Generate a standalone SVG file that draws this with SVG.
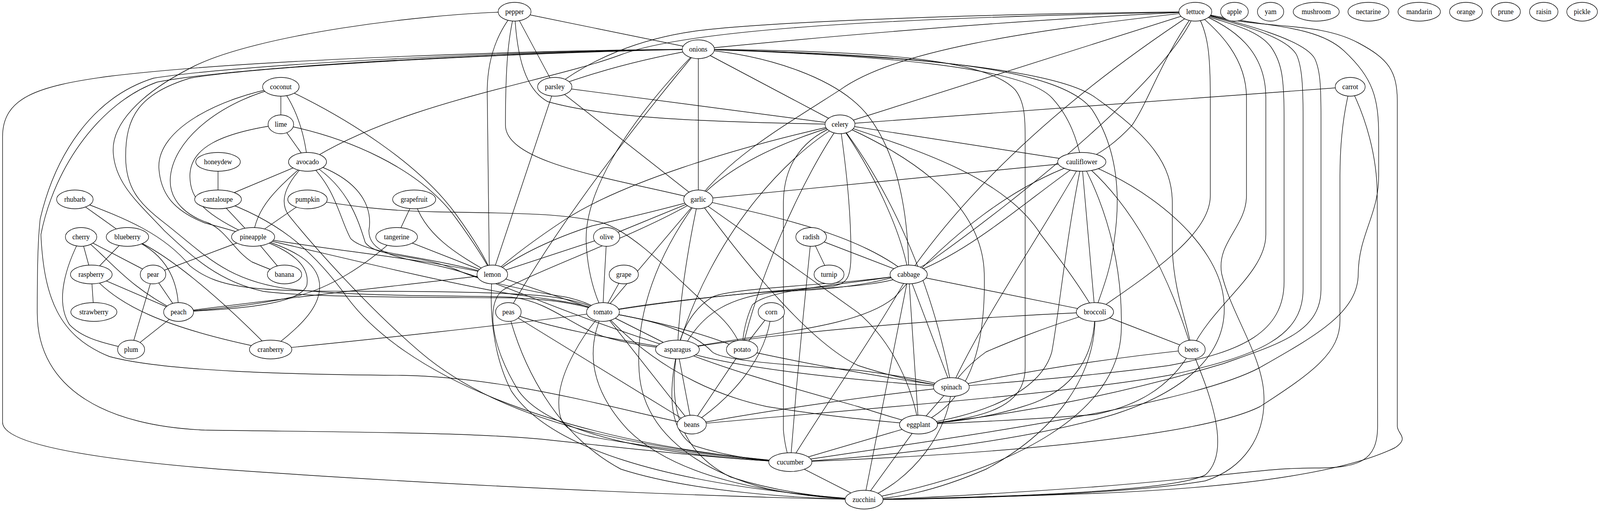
<svg xmlns="http://www.w3.org/2000/svg" width="4381" height="1307" viewBox="0 0 4381 1307">
<style>
.e path{fill:none;stroke:#000;stroke-width:1.4}
.n ellipse{fill:#fff;stroke:#000;stroke-width:1.4}
.n text{font-family:"Liberation Serif","Times New Roman",serif;font-size:18.67px;text-anchor:middle;fill:#000}
</style>
<rect width="4381" height="1307" fill="#fff"/>
<g id="diagram" transform="scale(0.93495,1)">
<g id="edges" class="e">
<path d="M1409,30 L1912,126"/>
<path d="M1409,30 L1519,222"/>
<path d="M1409,30 Q1336,110 1334,230 L1340,702"/>
<path d="M1409,30 C1390,100 1384,180 1384,320 C1384,420 1700,460 1912,510"/>
<path d="M1409,30 C1415,150 1440,230 1500,260 C1650,300 1900,312 2300,318"/>
<path d="M1409,30 C1150,35 700,90 530,170 C380,240 305,320 310,390 C315,470 380,520 450,590 C530,660 600,720 720,745 C850,762 1200,760 1400,762 C1500,765 1580,775 1651,798"/>
<path d="M3273,30 C2700,35 2100,55 1900,80 C1750,100 1620,150 1519,222"/>
<path d="M3273,30 C2500,45 1900,70 1700,140 C1500,210 1100,260 842,414"/>
<path d="M3273,30 C2800,50 2300,90 1912,126"/>
<path d="M3273,30 C2800,80 2450,130 2300,230 C2150,320 2000,400 1912,510"/>
<path d="M3273,30 L2300,318"/>
<path d="M3273,30 Q2750,350 2488,702"/>
<path d="M3273,30 C3200,200 2800,500 2560,660 C2480,720 2300,740 2150,745 C2000,755 1920,800 1870,894"/>
<path d="M3273,30 C3180,150 3150,250 3100,320 C3060,360 3020,390 2962,414"/>
<path d="M3273,30 C3310,80 3314,150 3314,250 L3314,500 C3314,600 3150,700 2998,798"/>
<path d="M3273,30 C3340,80 3413,150 3413,250 L3413,500 C3413,580 3330,620 3345,700 C3370,800 3450,900 3460,1000 C3470,1120 3400,1200 3300,1230 C3100,1262 2700,1274 2366,1278"/>
<path d="M3273,30 C3380,70 3466,130 3466,250 L3466,600 C3466,700 3320,780 3263,894"/>
<path d="M3273,30 C3350,60 3440,70 3480,120 C3510,160 3516,200 3516,300 L3516,720 C3516,850 3400,900 3200,935 C3000,960 2800,975 2605,990"/>
<path d="M3273,30 C3380,60 3520,90 3550,140 C3565,170 3568,220 3568,300 L3568,740 C3568,860 3450,910 3200,960 C2900,1010 2300,1050 1894,1086"/>
<path d="M3273,30 C3400,60 3570,100 3600,150 C3615,180 3617,220 3617,300 L3617,740 C3617,850 3500,880 3350,930 C3100,1000 2800,1060 2515,1086"/>
<path d="M3273,30 C3450,70 3600,60 3680,130 C3760,200 3775,250 3775,350 L3775,450 C3775,550 3720,600 3719,700 C3719,800 3600,860 3450,940 C3250,1040 2600,1120 2164,1182"/>
<path d="M3273,30 C3450,80 3600,50 3720,110 C3800,150 3826,180 3826,260 L3826,1090 C3826,1110 3860,1120 3820,1145 C3700,1200 3450,1245 3000,1262 C2700,1272 2500,1278 2366,1278"/>
<path d="M1912,126 Q1700,160 1519,222"/>
<path d="M1912,126 L2300,318"/>
<path d="M1912,126 L1912,510"/>
<path d="M1912,126 Q1560,520 1392,798"/>
<path d="M1912,126 C1700,330 1600,500 1605,620 Q1610,720 1651,798"/>
<path d="M1912,126 C2100,140 2300,200 2380,300 C2460,400 2488,550 2488,702"/>
<path d="M1912,126 C2400,140 2800,170 2880,250 C2930,300 2950,360 2962,414"/>
<path d="M1912,126 C2400,130 2700,150 2780,230 C2805,260 2807,300 2807,350 L2807,940 C2807,1040 2700,1070 2515,1086"/>
<path d="M1912,126 C2500,140 2900,170 2990,280 C3060,380 3070,500 3050,620 C3040,700 3010,760 2998,798"/>
<path d="M1912,126 C2500,140 2900,180 3000,250 C3150,350 3210,420 3210,520 L3210,640 C3215,750 3250,820 3263,894"/>
<path d="M1912,126 C1500,128 700,150 300,195 C100,220 7,250 7,350 L7,1080 C7,1130 200,1170 600,1200 C1200,1240 1900,1270 2366,1278"/>
<path d="M1912,126 C1400,130 650,165 420,200 C250,250 150,400 110,560 C103,620 102,700 102,800 C102,1000 300,1090 560,1100 C900,1105 1300,1105 1500,1125 C1800,1155 2000,1175 2164,1182"/>
<path d="M1912,126 C1400,132 650,170 430,210 C280,260 150,420 112,600 C120,760 160,860 300,912 C450,950 800,958 1100,960 C1400,965 1700,1050 1894,1086"/>
<path d="M1912,126 C1400,135 700,170 520,200 C380,240 344,300 344,400 C344,480 380,520 450,570 C560,650 620,720 800,740 C1000,760 1250,755 1400,760 C1500,770 1560,830 1650,860 C1720,880 1790,888 1855,894"/>
<path d="M769,222 L769,318"/>
<path d="M769,222 Q830,300 842,414"/>
<path d="M769,222 C950,300 1150,420 1250,550 Q1320,640 1348,702"/>
<path d="M769,222 C600,250 430,330 435,430 C440,500 480,540 560,570 Q640,590 693,606"/>
<path d="M769,222 C600,260 470,360 466,460 C465,520 520,555 570,570 C620,590 640,640 690,670 Q740,690 779,702"/>
<path d="M769,318 L842,414"/>
<path d="M769,318 C600,340 520,380 520,450 C520,510 560,550 693,606"/>
<path d="M769,318 C950,350 1150,430 1250,560 Q1320,650 1348,702"/>
<path d="M597,414 L597,510"/>
<path d="M842,414 L597,510"/>
<path d="M842,414 C760,480 700,530 693,606"/>
<path d="M842,414 C920,480 930,560 960,610 C1000,650 1150,650 1348,702"/>
<path d="M842,414 C950,470 980,560 1000,620 C1030,660 1150,650 1250,690 C1320,720 1450,745 1550,760 Q1610,772 1651,798"/>
<path d="M842,414 C1000,460 1020,540 1010,590 C1010,650 1100,660 1200,680 C1350,710 1500,790 1855,894"/>
<path d="M842,414 C790,460 760,510 790,550 C850,620 1000,780 1150,900 C1400,1100 1800,1150 2164,1182"/>
<path d="M597,510 L693,606"/>
<path d="M597,510 C750,560 850,630 950,760 C1100,950 1500,1130 2164,1182"/>
<path d="M842,510 L693,606"/>
<path d="M842,510 C950,525 1050,540 1200,542 C1400,545 1550,545 1650,570 C1750,600 1880,740 1960,800 Q2010,840 2032,894"/>
<path d="M205,510 L349,606"/>
<path d="M205,510 C350,560 450,600 520,680 C600,740 700,745 1000,745 C1200,745 1400,748 1500,758 Q1600,770 1651,798"/>
<path d="M1134,510 L1086,606"/>
<path d="M1134,510 C1160,600 1250,650 1348,702"/>
<path d="M222,606 L250,702"/>
<path d="M222,606 L419,702"/>
<path d="M222,606 C290,650 340,730 489,798"/>
<path d="M222,606 C180,680 150,770 190,830 C230,870 300,880 359,894"/>
<path d="M349,606 L250,702"/>
<path d="M349,606 C440,640 489,700 489,798"/>
<path d="M349,606 C450,640 600,760 741,894"/>
<path d="M250,702 L257,798"/>
<path d="M250,702 L489,798"/>
<path d="M250,702 C320,780 450,840 741,894"/>
<path d="M419,702 L489,798"/>
<path d="M419,702 L359,894"/>
<path d="M419,702 L693,606"/>
<path d="M489,798 L359,894"/>
<path d="M693,606 L779,702"/>
<path d="M693,606 C900,640 1150,660 1348,702"/>
<path d="M693,606 C900,650 1200,720 1400,752 C1500,765 1600,775 1651,798"/>
<path d="M693,606 C800,640 850,680 840,730 C820,780 650,790 489,798"/>
<path d="M693,606 C820,640 880,680 875,740 C870,800 800,850 741,894"/>
<path d="M1086,606 L1348,702"/>
<path d="M1086,606 C1000,680 900,740 800,760 C700,780 600,790 489,798"/>
<path d="M1661,606 L1912,510"/>
<path d="M1661,606 L1348,702"/>
<path d="M1661,606 C1656,700 1651,760 1651,798"/>
<path d="M1912,510 C1800,540 1700,560 1620,578 Q1450,630 1348,702"/>
<path d="M1519,222 L1348,702"/>
<path d="M1519,222 L1912,510"/>
<path d="M1519,222 L2300,318"/>
<path d="M489,798 C800,760 1100,730 1348,702"/>
<path d="M1348,702 L1651,798"/>
<path d="M1348,702 C1340,780 1345,900 1400,1000 C1500,1140 1800,1240 2366,1278"/>
<path d="M1912,510 C1750,600 1500,680 1380,740 C1330,770 1340,880 1420,1000 C1520,1130 1900,1170 2164,1182"/>
<path d="M1708,702 L1651,798"/>
<path d="M1912,510 L1651,798"/>
<path d="M1912,510 C1880,650 1860,780 1855,894"/>
<path d="M1912,510 C2150,560 2350,600 2488,702"/>
<path d="M1912,510 C1990,610 2200,870 2350,935 Q2480,975 2605,990"/>
<path d="M1912,510 C1990,560 2200,700 2350,800 C2450,880 2500,1000 2515,1086"/>
<path d="M1912,510 C1800,650 1740,800 1750,950 C1760,1100 1900,1200 2100,1250 C2200,1270 2300,1276 2366,1278"/>
<path d="M2300,318 C2150,360 2000,420 1912,510"/>
<path d="M2300,318 C2000,380 1700,470 1550,560 Q1420,640 1348,702"/>
<path d="M2300,318 C2150,400 1950,600 1855,894"/>
<path d="M2300,318 C2200,450 2080,700 2032,894"/>
<path d="M2300,318 C2200,350 2145,420 2145,520 L2145,1100 Q2150,1150 2164,1182"/>
<path d="M2300,318 C2320,450 2330,550 2330,650 C2330,710 2320,725 2280,732 C2100,745 1800,770 1651,798"/>
<path d="M2300,318 C2400,450 2470,600 2488,702"/>
<path d="M2300,318 C2450,500 2560,750 2605,990"/>
<path d="M2300,318 C2450,380 2690,500 2695,700 C2700,900 2650,1030 2515,1086"/>
<path d="M2300,318 C2500,380 2750,450 2850,600 Q2950,720 2998,798"/>
<path d="M2300,318 L2962,414"/>
<path d="M3697,222 L2300,318"/>
<path d="M3697,222 C3675,300 3669,380 3669,450 L3669,820 C3669,900 3600,950 3450,1040 C3300,1110 2800,1160 2164,1182"/>
<path d="M3697,222 C3740,300 3771,400 3771,500 L3772,1090 C3772,1180 3720,1197 3600,1197 C3450,1197 3350,1220 3000,1245 C2700,1265 2500,1275 2366,1278"/>
<path d="M2962,414 L1912,510"/>
<path d="M2962,414 C2780,470 2600,600 2450,760 C2350,840 2100,850 1855,894"/>
<path d="M2962,414 C2800,520 2650,650 2488,702"/>
<path d="M2962,414 C2850,600 2700,800 2605,990"/>
<path d="M2962,414 C2920,600 2900,800 2880,900 C2850,1000 2700,1060 2515,1086"/>
<path d="M2962,414 L2998,798"/>
<path d="M2962,414 C3040,550 3075,700 3070,850 C3060,1050 2800,1200 2366,1278"/>
<path d="M2962,414 C3100,520 3200,700 3263,894"/>
<path d="M2962,414 C3150,480 3330,620 3350,760 C3370,900 3250,1000 3050,1060 C2800,1130 2400,1170 2164,1182"/>
<path d="M2221,606 L2270,702"/>
<path d="M2221,606 L2488,702"/>
<path d="M2221,606 C2210,700 2190,900 2180,1000 Q2170,1120 2164,1182"/>
<path d="M2488,702 C2400,740 2200,735 2000,755 Q1800,775 1651,798"/>
<path d="M2488,702 C2300,730 2000,735 1950,760 Q1880,800 1855,894"/>
<path d="M2488,702 C2300,730 2100,740 2060,780 Q2035,830 2032,894"/>
<path d="M2488,702 L2998,798"/>
<path d="M2488,702 L2605,990"/>
<path d="M2488,702 L2515,1086"/>
<path d="M2488,702 C2400,850 2250,1050 2164,1182"/>
<path d="M2488,702 L2366,1278"/>
<path d="M1392,798 C1500,840 1700,870 1855,894"/>
<path d="M1392,798 L1894,1086"/>
<path d="M1392,798 C1420,900 1500,1100 1700,1200 C1900,1260 2200,1275 2366,1278"/>
<path d="M1651,798 C1400,830 1000,870 741,894"/>
<path d="M1651,798 L1855,894"/>
<path d="M1651,798 C1800,820 1950,860 2032,894"/>
<path d="M1651,798 C1800,820 1900,850 1950,900 C1975,920 2100,930 2350,947 Q2500,965 2605,990"/>
<path d="M1651,798 L1894,1086"/>
<path d="M1651,798 C1600,850 1530,950 1530,1030 C1530,1100 1560,1110 1700,1130 C1900,1160 2050,1175 2164,1182"/>
<path d="M1651,798 C1600,900 1620,1000 1720,1100 C1850,1220 2100,1265 2366,1278"/>
<path d="M1651,798 C1750,900 1900,1000 2100,1040 C2300,1070 2450,1080 2515,1086"/>
<path d="M2112,798 L2032,894"/>
<path d="M2112,798 C2100,920 2000,1020 1894,1086"/>
<path d="M2998,798 C2700,810 2200,840 1855,894"/>
<path d="M2998,798 C2850,840 2750,880 2700,900 Q2640,940 2605,990"/>
<path d="M2998,798 L3263,894"/>
<path d="M2998,798 C2998,900 2950,1000 2800,1040 C2700,1070 2600,1080 2515,1086"/>
<path d="M2998,798 C3005,950 2900,1100 2700,1200 C2550,1260 2450,1275 2366,1278"/>
<path d="M1855,894 L1894,1086"/>
<path d="M1855,894 C1830,1000 1830,1100 1900,1140 C2000,1170 2100,1180 2164,1182"/>
<path d="M1855,894 C1830,1020 1850,1150 2000,1220 C2150,1265 2300,1275 2366,1278"/>
<path d="M1855,894 C2000,940 2300,970 2605,990"/>
<path d="M1855,894 C2000,950 2200,1000 2350,1040 Q2450,1070 2515,1086"/>
<path d="M2032,894 L1894,1086"/>
<path d="M2032,894 C2200,930 2450,970 2605,990"/>
<path d="M3263,894 Q2900,930 2605,990"/>
<path d="M3263,894 C3200,1000 3100,1040 3000,1060 C2800,1075 2600,1082 2515,1086"/>
<path d="M3263,894 C3300,980 3380,1150 3300,1215 C3200,1260 2700,1272 2366,1278"/>
<path d="M2605,990 L2515,1086"/>
<path d="M2605,990 C2600,1100 2500,1230 2366,1278"/>
<path d="M2605,990 C2400,1010 2100,1050 1894,1086"/>
<path d="M2515,1086 L2164,1182"/>
<path d="M2515,1086 L2366,1278"/>
<path d="M2164,1182 L2366,1278"/>
</g>
<g id="pepper" class="n"><ellipse cx="1409" cy="30" rx="45" ry="24"/><text x="1409" y="36">pepper</text></g>
<g id="lettuce" class="n"><ellipse cx="3273" cy="30" rx="45" ry="24"/><text x="3273" y="36">lettuce</text></g>
<g id="apple" class="n"><ellipse cx="3380" cy="30" rx="38" ry="24"/><text x="3380" y="36">apple</text></g>
<g id="yam" class="n"><ellipse cx="3479" cy="30" rx="36" ry="24"/><text x="3479" y="36">yam</text></g>
<g id="mushroom" class="n"><ellipse cx="3604" cy="30" rx="63" ry="24"/><text x="3604" y="36">mushroom</text></g>
<g id="nectarine" class="n"><ellipse cx="3747" cy="30" rx="56" ry="24"/><text x="3747" y="36">nectarine</text></g>
<g id="mandarin" class="n"><ellipse cx="3886" cy="30" rx="58" ry="24"/><text x="3886" y="36">mandarin</text></g>
<g id="orange" class="n"><ellipse cx="4014" cy="30" rx="45" ry="24"/><text x="4014" y="36">orange</text></g>
<g id="prune" class="n"><ellipse cx="4123" cy="30" rx="40" ry="24"/><text x="4123" y="36">prune</text></g>
<g id="raisin" class="n"><ellipse cx="4227" cy="30" rx="39" ry="24"/><text x="4227" y="36">raisin</text></g>
<g id="pickle" class="n"><ellipse cx="4332" cy="30" rx="42" ry="24"/><text x="4332" y="36">pickle</text></g>
<g id="onions" class="n"><ellipse cx="1912" cy="126" rx="44" ry="24"/><text x="1912" y="132">onions</text></g>
<g id="coconut" class="n"><ellipse cx="769" cy="222" rx="50" ry="24"/><text x="769" y="228">coconut</text></g>
<g id="parsley" class="n"><ellipse cx="1519" cy="222" rx="47" ry="24"/><text x="1519" y="228">parsley</text></g>
<g id="carrot" class="n"><ellipse cx="3697" cy="222" rx="41" ry="24"/><text x="3697" y="228">carrot</text></g>
<g id="lime" class="n"><ellipse cx="769" cy="318" rx="35" ry="24"/><text x="769" y="324">lime</text></g>
<g id="celery" class="n"><ellipse cx="2300" cy="318" rx="41" ry="24"/><text x="2300" y="324">celery</text></g>
<g id="honeydew" class="n"><ellipse cx="597" cy="414" rx="61" ry="24"/><text x="597" y="420">honeydew</text></g>
<g id="avocado" class="n"><ellipse cx="842" cy="414" rx="52" ry="24"/><text x="842" y="420">avocado</text></g>
<g id="cauliflower" class="n"><ellipse cx="2962" cy="414" rx="66" ry="24"/><text x="2962" y="420">cauliflower</text></g>
<g id="rhubarb" class="n"><ellipse cx="205" cy="510" rx="50" ry="24"/><text x="205" y="516">rhubarb</text></g>
<g id="cantaloupe" class="n"><ellipse cx="597" cy="510" rx="64" ry="24"/><text x="597" y="516">cantaloupe</text></g>
<g id="pumpkin" class="n"><ellipse cx="842" cy="510" rx="54" ry="24"/><text x="842" y="516">pumpkin</text></g>
<g id="grapefruit" class="n"><ellipse cx="1134" cy="510" rx="59" ry="24"/><text x="1134" y="516">grapefruit</text></g>
<g id="garlic" class="n"><ellipse cx="1912" cy="510" rx="40" ry="24"/><text x="1912" y="516">garlic</text></g>
<g id="cherry" class="n"><ellipse cx="222" cy="606" rx="43" ry="24"/><text x="222" y="612">cherry</text></g>
<g id="blueberry" class="n"><ellipse cx="349" cy="606" rx="58" ry="24"/><text x="349" y="612">blueberry</text></g>
<g id="pineapple" class="n"><ellipse cx="693" cy="606" rx="59" ry="24"/><text x="693" y="612">pineapple</text></g>
<g id="tangerine" class="n"><ellipse cx="1086" cy="606" rx="57" ry="24"/><text x="1086" y="612">tangerine</text></g>
<g id="olive" class="n"><ellipse cx="1661" cy="606" rx="36" ry="24"/><text x="1661" y="612">olive</text></g>
<g id="radish" class="n"><ellipse cx="2221" cy="606" rx="42" ry="24"/><text x="2221" y="612">radish</text></g>
<g id="raspberry" class="n"><ellipse cx="250" cy="702" rx="57" ry="24"/><text x="250" y="708">raspberry</text></g>
<g id="pear" class="n"><ellipse cx="419" cy="702" rx="35" ry="24"/><text x="419" y="708">pear</text></g>
<g id="banana" class="n"><ellipse cx="779" cy="702" rx="47" ry="24"/><text x="779" y="708">banana</text></g>
<g id="lemon" class="n"><ellipse cx="1348" cy="702" rx="42" ry="24"/><text x="1348" y="708">lemon</text></g>
<g id="grape" class="n"><ellipse cx="1708" cy="702" rx="40" ry="24"/><text x="1708" y="708">grape</text></g>
<g id="turnip" class="n"><ellipse cx="2270" cy="702" rx="41" ry="24"/><text x="2270" y="708">turnip</text></g>
<g id="cabbage" class="n"><ellipse cx="2488" cy="702" rx="51" ry="24"/><text x="2488" y="708">cabbage</text></g>
<g id="strawberry" class="n"><ellipse cx="257" cy="798" rx="63" ry="24"/><text x="257" y="804">strawberry</text></g>
<g id="peach" class="n"><ellipse cx="489" cy="798" rx="41" ry="24"/><text x="489" y="804">peach</text></g>
<g id="peas" class="n"><ellipse cx="1392" cy="798" rx="35" ry="24"/><text x="1392" y="804">peas</text></g>
<g id="tomato" class="n"><ellipse cx="1651" cy="798" rx="45" ry="24"/><text x="1651" y="804">tomato</text></g>
<g id="corn" class="n"><ellipse cx="2112" cy="798" rx="36" ry="24"/><text x="2112" y="804">corn</text></g>
<g id="broccoli" class="n"><ellipse cx="2998" cy="798" rx="51" ry="24"/><text x="2998" y="804">broccoli</text></g>
<g id="plum" class="n"><ellipse cx="359" cy="894" rx="37" ry="24"/><text x="359" y="900">plum</text></g>
<g id="cranberry" class="n"><ellipse cx="741" cy="894" rx="58" ry="24"/><text x="741" y="900">cranberry</text></g>
<g id="asparagus" class="n"><ellipse cx="1855" cy="894" rx="60" ry="24"/><text x="1855" y="900">asparagus</text></g>
<g id="potato" class="n"><ellipse cx="2032" cy="894" rx="43" ry="24"/><text x="2032" y="900">potato</text></g>
<g id="beets" class="n"><ellipse cx="3263" cy="894" rx="37" ry="24"/><text x="3263" y="900">beets</text></g>
<g id="spinach" class="n"><ellipse cx="2605" cy="990" rx="49" ry="24"/><text x="2605" y="996">spinach</text></g>
<g id="beans" class="n"><ellipse cx="1894" cy="1086" rx="40" ry="24"/><text x="1894" y="1092">beans</text></g>
<g id="eggplant" class="n"><ellipse cx="2515" cy="1086" rx="52" ry="24"/><text x="2515" y="1092">eggplant</text></g>
<g id="cucumber" class="n"><ellipse cx="2164" cy="1182" rx="59" ry="24"/><text x="2164" y="1188">cucumber</text></g>
<g id="zucchini" class="n"><ellipse cx="2366" cy="1278" rx="52" ry="24"/><text x="2366" y="1284">zucchini</text></g>
</g>
</svg>
